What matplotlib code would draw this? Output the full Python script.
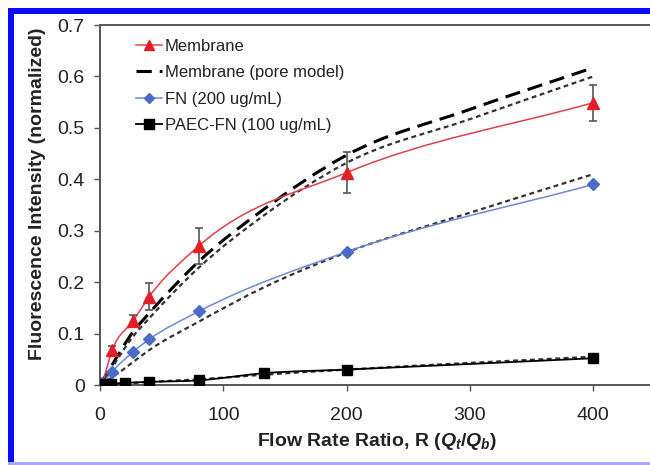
import matplotlib
matplotlib.use("Agg")
import matplotlib.pyplot as plt
from matplotlib.path import Path
from matplotlib.patches import PathPatch, Rectangle
from matplotlib.lines import Line2D
import numpy as np

plt.rcParams['font.family'] = ['Liberation Sans', 'DejaVu Sans']
plt.rcParams['mathtext.fontset'] = 'custom'
plt.rcParams['mathtext.it'] = 'Liberation Sans:bold:italic'
plt.rcParams['mathtext.rm'] = 'Liberation Sans:bold'
plt.rcParams['mathtext.bf'] = 'Liberation Sans:bold'

# ---- data ----
mem_x = [2, 10, 27, 40, 80, 200, 400]
mem_y = [0.004, 0.068, 0.125, 0.172, 0.270, 0.413, 0.549]
mem_err = [0.003, 0.008, 0.012, 0.026, 0.035, 0.040, 0.035]

fn_x = [2, 10, 27, 40, 80, 200, 400]
fn_y = [0.003, 0.026, 0.065, 0.089, 0.143, 0.259, 0.390]

paec_x = [2, 9, 20, 40, 80, 133, 200, 400]
paec_y = [0.001, 0.002, 0.004, 0.006, 0.009, 0.023, 0.030, 0.052]

model_x = [0, 10, 27, 40, 80, 133, 200, 300, 400]
pore_y = [0.0, 0.040, 0.104, 0.140, 0.240, 0.342, 0.447, 0.536, 0.617]
mem_model_y = [0.0, 0.035, 0.095, 0.130, 0.228, 0.330, 0.432, 0.517, 0.600]
fn_model_y = [0.0, 0.015, 0.045, 0.068, 0.123, 0.190, 0.258, 0.335, 0.410]
paec_model_y = [0.0, 0.002, 0.004, 0.006, 0.011, 0.020, 0.030, 0.043, 0.055]

xticks = [0, 100, 200, 300, 400]
yticks = [0, 0.1, 0.2, 0.3, 0.4, 0.5, 0.6, 0.7]
ytick_labels = ['0', '0.1', '0.2', '0.3', '0.4', '0.5', '0.6', '0.7']

RED = '#e31e25'
RED_LINE = '#e0404a'
BLUE = '#4a6cc8'
BLUE_LINE = '#6a8ad8'


def smooth_path(xs, ys):
    """Smoothed line (cubic Hermite in x) as Bezier path in data coords."""
    x = np.asarray(xs, float)
    y = np.asarray(ys, float)
    n = len(x)
    h = np.diff(x)
    d = np.diff(y) / h
    m = np.empty(n)
    m[0] = d[0]
    m[-1] = d[-1]
    for i in range(1, n - 1):
        m[i] = (d[i - 1] * h[i] + d[i] * h[i - 1]) / (h[i - 1] + h[i])
    verts = [(x[0], y[0])]
    codes = [Path.MOVETO]
    for i in range(n - 1):
        verts += [(x[i] + h[i] / 3, y[i] + m[i] * h[i] / 3),
                  (x[i + 1] - h[i] / 3, y[i + 1] - m[i + 1] * h[i] / 3),
                  (x[i + 1], y[i + 1])]
        codes += [Path.CURVE4] * 3
    return Path(verts, codes)


def add_curve(ax, xs, ys, **kw):
    patch = PathPatch(smooth_path(xs, ys), fill=False, transform=ax.transData, **kw)
    ax.add_patch(patch)
    return patch


W, H = 650, 465
fig = plt.figure(figsize=(6.5, 4.65), dpi=100)

# frame decorations (blue border)
fig.patches.append(Rectangle((8 / W, 1 - 14 / H), 1, 6 / H, transform=fig.transFigure,
                             facecolor='#0a0aff', edgecolor='none', zorder=0))
fig.patches.append(Rectangle((8 / W, 2 / H), 6 / W, 1 - 10 / H, transform=fig.transFigure,
                             facecolor='#0a0aff', edgecolor='none', zorder=0))
fig.patches.append(Rectangle((8 / W, 0), 1, 3 / H, transform=fig.transFigure,
                             facecolor='#a8a8ff', edgecolor='none', zorder=0))

left, right, top, bottom = 100, 655, 25, 385
ax = fig.add_axes([left / W, 1 - bottom / H, (right - left) / W, (bottom - top) / H])
ax.set_xlim(0, 450)
ax.set_ylim(0, 0.7)

# model curves (dashed)
add_curve(ax, model_x, pore_y, edgecolor='black', lw=2.2, linestyle=(0, (5, 2.6)), zorder=3)
add_curve(ax, model_x, mem_model_y, edgecolor='#333333', lw=1.6, linestyle=(0, (2.2, 1.6)), zorder=3)
add_curve(ax, model_x, fn_model_y, edgecolor='#333333', lw=1.6, linestyle=(0, (2.2, 1.6)), zorder=3)
add_curve(ax, model_x, paec_model_y, edgecolor='#333333', lw=1.6, linestyle=(0, (2.2, 1.6)), zorder=3)

# data curves
add_curve(ax, mem_x, mem_y, edgecolor=RED_LINE, lw=1.1, zorder=4)
add_curve(ax, fn_x, fn_y, edgecolor=BLUE_LINE, lw=1.1, zorder=4)
add_curve(ax, paec_x, paec_y, edgecolor='black', lw=1.3, zorder=4)

ax.errorbar(mem_x, mem_y, yerr=mem_err, fmt='none', ecolor='#555555', elinewidth=1.2,
            capsize=3, capthick=1.2, zorder=5)
ax.plot(mem_x, mem_y, linestyle='none', marker='^', color=RED, markersize=8.5, zorder=6)
ax.plot(fn_x, fn_y, linestyle='none', marker='D', color=BLUE, markersize=6.5, zorder=6)
ax.plot(paec_x, paec_y, linestyle='none', marker='s', color='black', markersize=7.5, zorder=6)

ax.set_xticks(xticks)
ax.set_xticklabels([str(t) for t in xticks])
ax.set_yticks(yticks)
ax.set_yticklabels(ytick_labels)
ax.tick_params(axis='both', direction='out', length=4, width=1, color='#555555',
               labelsize=14, labelcolor='#222222', pad=7)
ax.tick_params(axis='x', pad=12)

for s in ['top', 'left', 'bottom', 'right']:
    ax.spines[s].set_color('#555555')
    ax.spines[s].set_linewidth(1.4)

ax.set_xlabel(r'Flow Rate Ratio, R ($Q_t/Q_b$)', fontsize=14, fontweight='bold',
              color='#222222', labelpad=5)
ax.set_ylabel('Fluorescence Intensity (normalized)', fontsize=14, fontweight='bold',
              color='#222222')
ax.yaxis.set_label_coords(-0.098, 0.53)

handles = [
    Line2D([], [], color=RED_LINE, lw=1.1, marker='^', markerfacecolor=RED,
           markeredgecolor=RED, markersize=7.5),
    Line2D([], [], color='black', lw=2.2, linestyle=(0, (5, 2.6))),
    Line2D([], [], color=BLUE_LINE, lw=1.1, marker='D', markerfacecolor=BLUE,
           markeredgecolor=BLUE, markersize=5),
    Line2D([], [], color='black', lw=1.3, marker='s', markersize=7),
]
labels = ['Membrane', 'Membrane (pore model)', 'FN (200 ug/mL)', 'PAEC-FN (100 ug/mL)']
leg = ax.legend(handles, labels, loc='upper left', bbox_to_anchor=(0.052, 0.98),
                frameon=False, fontsize=12, handlelength=1.6, handletextpad=0.15,
                labelspacing=0.68, borderaxespad=0)
for t in leg.get_texts():
    t.set_color('#222222')

fig.savefig('out.png', dpi=100)
